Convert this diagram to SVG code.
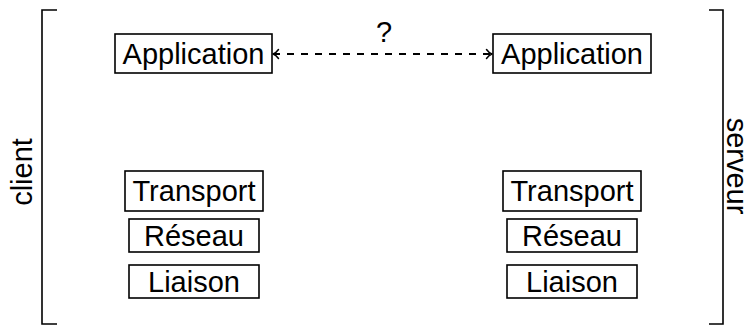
<svg xmlns="http://www.w3.org/2000/svg" width="752" height="327" viewBox="0 0 752 327">
  <style>
    .box { fill: #fff; stroke: #000; stroke-width: 1.6; }
    .lbl { font-family: "Liberation Sans", Arial, sans-serif; font-size: 29px; fill: #000; text-anchor: middle; }
    .brk { fill: none; stroke: #000; stroke-width: 1.6; }
    .link { fill: none; stroke: #000; stroke-width: 2; stroke-dasharray: 7 7; }
    .tip { fill: none; stroke: #000; stroke-width: 1.5; stroke-linecap: round; stroke-linejoin: round; }
  </style>
  <defs>
    <marker id="head" viewBox="0 0 10 12" refX="9" refY="6" markerWidth="10" markerHeight="12" markerUnits="userSpaceOnUse" orient="auto-start-reverse">
      <path class="tip" d="M3.5 1.5 Q6 5 9 6 Q6 7 3.5 10.5"/>
    </marker>
  </defs>

  <!-- side brackets -->
  <g id="client-side">
    <path class="brk" d="M57 10 H42 V324 H57"/>
    <text class="lbl" transform="translate(32 172) rotate(-90)">client</text>
  </g>
  <g id="server-side">
    <path class="brk" d="M709 10 H723 V324 H709"/>
    <text class="lbl" transform="translate(727 166) rotate(90)">serveur</text>
  </g>

  <!-- client stack -->
  <g id="client-application">
    <rect class="box" x="115" y="34" width="157" height="39"/>
    <text class="lbl" x="193.5" y="64">Application</text>
  </g>
  <g id="client-transport">
    <rect class="box" x="125" y="171" width="138" height="40"/>
    <text class="lbl" x="194" y="201">Transport</text>
  </g>
  <g id="client-reseau">
    <rect class="box" x="129" y="219" width="130" height="33"/>
    <text class="lbl" x="194" y="246">Réseau</text>
  </g>
  <g id="client-liaison">
    <rect class="box" x="129" y="265" width="130" height="33"/>
    <text class="lbl" x="194" y="292">Liaison</text>
  </g>

  <!-- server stack -->
  <g id="server-application">
    <rect class="box" x="493" y="34" width="158" height="39"/>
    <text class="lbl" x="572" y="64">Application</text>
  </g>
  <g id="server-transport">
    <rect class="box" x="503" y="171" width="138" height="40"/>
    <text class="lbl" x="572" y="201">Transport</text>
  </g>
  <g id="server-reseau">
    <rect class="box" x="507" y="219" width="130" height="33"/>
    <text class="lbl" x="572" y="246">Réseau</text>
  </g>
  <g id="server-liaison">
    <rect class="box" x="507" y="265" width="130" height="33"/>
    <text class="lbl" x="572" y="292">Liaison</text>
  </g>

  <!-- connectors -->
  <g id="connectors">
    <path class="link" d="M273 54 H492" marker-start="url(#head)" marker-end="url(#head)"/>
    <text class="lbl" x="384" y="42">?</text>
  </g>
</svg>
